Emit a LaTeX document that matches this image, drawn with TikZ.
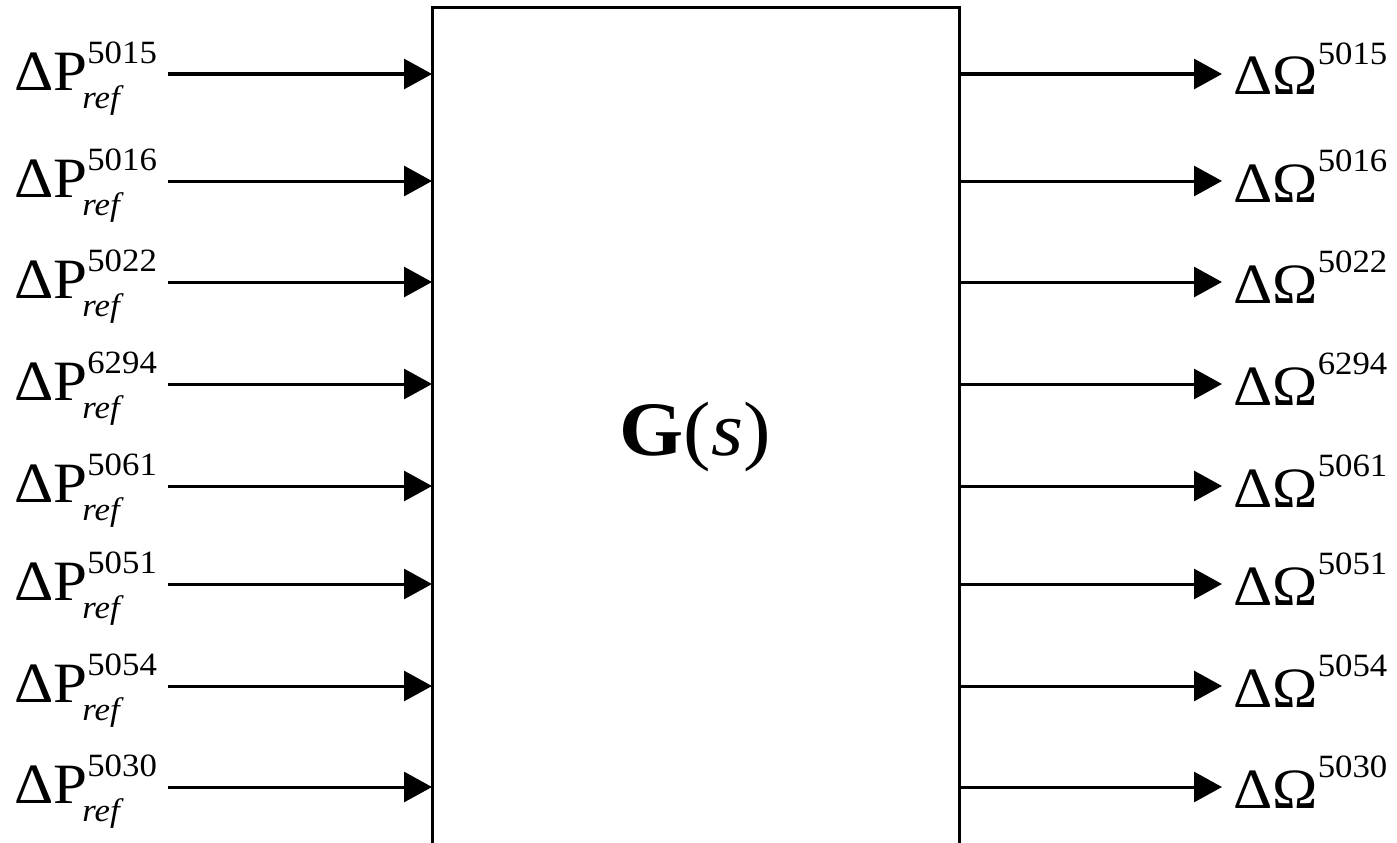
\documentclass[tikz,border=0pt]{standalone}
\usepackage{fontspec}
\setmainfont{Liberation Serif}[FakeStretch=1.07]
\usetikzlibrary{arrows.meta}
\newcommand\bigfs{\fontsize{57}{60}\selectfont}
\newcommand\smallfs{\fontsize{32.5}{34}\selectfont}
\newcommand\psupsub[2]{\rlap{\raisebox{27pt}{\smallfs #1}}\kern-5pt\raisebox{-18pt}{\smallfs\itshape #2}}
\newcommand\osup[1]{\raisebox{31pt}{\smallfs #1}}
\begin{document}
\begin{tikzpicture}[x=1pt,y=-1pt,
  lbl/.style={inner sep=0pt,anchor=base west,font=\bigfs},
  sig/.style={line width=3pt,-{Triangle[length=28pt,width=30pt]}},
  blk/.style={line width=3pt}]
\useasboundingbox (0,0) rectangle (1397,843);
\coordinate (bl) at (432,843);
\coordinate (tl) at (432,8);
\coordinate (tr) at (959,8);
\coordinate (br) at (959,843);
\draw[blk] (bl) -- (tl) -- (tr) -- (br);
\node[inner sep=0pt,font=\fontsize{77}{80}\selectfont] (G) at (695,437) {\textbf{G}(\textit{s})};
\foreach \n/\yy in {5015/74,5016/181,5022/282,6294/384,5061/486,5051/584,5054/686,5030/787}{
  \node[lbl] (in\n) at (14,\yy+16) {ΔP\psupsub{\n}{ref}};
  \node[lbl] (out\n) at (1233,\yy+21) {ΔΩ\osup{\n}};
  \coordinate (a\n) at (168,\yy);
  \coordinate (b\n) at (tl |- a\n);
  \coordinate (c\n) at (tr |- a\n);
  \coordinate (d\n) at (1222,\yy);
  \draw[sig] (a\n) -- (b\n);
  \draw[sig] (c\n) -- (d\n);
}
\end{tikzpicture}
\end{document}
